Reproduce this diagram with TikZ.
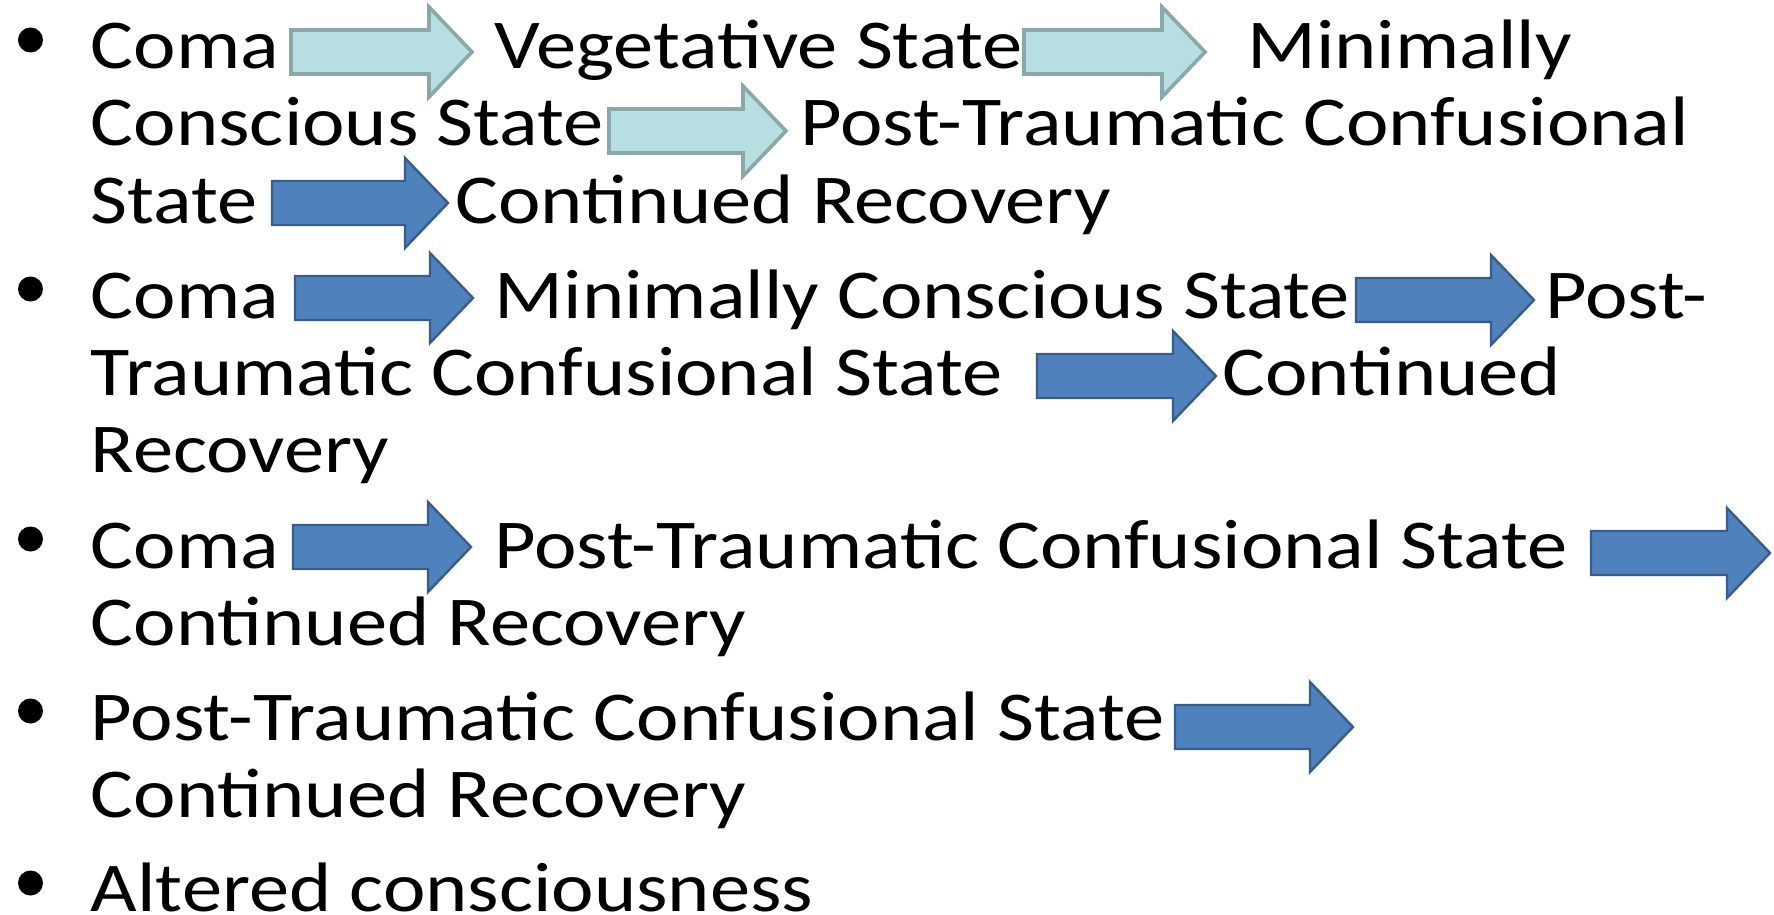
\documentclass[tikz,border=0pt]{standalone}
\usepackage{fontspec}
\setmainfont[FakeStretch=1.15]{Carlito}
\usepackage{tikz}
\definecolor{lightfill}{HTML}{B7DEE1}
\definecolor{lightedge}{HTML}{8AA8AB}
\definecolor{darkfill}{HTML}{4F81BD}
\definecolor{darkedge}{HTML}{385D8A}
\tikzset{x=0.5pt, y=-0.5pt,
  txt/.style={anchor=base west, inner sep=0pt, font=\fontsize{35}{38}\selectfont},
  lightarrow/.style={fill=lightfill, draw=lightedge, line width=1.8pt, line join=miter},
  darkarrow/.style={fill=darkfill, draw=darkedge, line width=1.2pt, line join=miter},
  dot/.style={fill=black}}
% block arrow: style, left end, tip, middle height
\newcommand{\barrow}[4][darkarrow]{%
  \draw[#1] (#2,#4-22) -- (#3-43,#4-22) -- (#3-43,#4-45) -- (#3,#4)
    -- (#3-43,#4+45) -- (#3-43,#4+22) -- (#2,#4+22) -- cycle;}

\begin{document}
\begin{tikzpicture}
\useasboundingbox (0,0) rectangle (1774,915);

% bullets
\foreach \b in {40,289,539,711,883}
  \fill[dot] (30.5,\b) circle (12.5);

% first item
\node[txt] (coma1) at (90.5,69) {Coma};
\barrow[lightarrow]{291}{472}{52}
\node[txt] (veg) at (494.5,69) {Vegetative State};
\barrow[lightarrow]{1024}{1205}{52}
\node[txt] (mcs1a) at (1247,69) {Minimally};
\node[txt] (mcs1b) at (90.5,146) {Conscious State};
\barrow[lightarrow]{609}{786}{131}
\node[txt] (ptcs1a) at (800,146) {Post-Traumatic Confusional};
\node[txt] (ptcs1b) at (90.5,223) {State};
\barrow{272}{448}{203}
\node[txt] (rec1) at (455,223) {Continued Recovery};

% second item
\node[txt] (coma2) at (90.5,318) {Coma};
\barrow{295}{473}{298}
\node[txt] (mcs2) at (494.4,318) {Minimally Conscious State};
\barrow{1356}{1534}{300}
\node[txt] (ptcs2a) at (1545,318) {Post-};
\node[txt] (ptcs2b) at (90.5,395) {Traumatic Confusional State};
\barrow{1037}{1216}{376}
\node[txt] (rec2a) at (1222,395) {Continued};
\node[txt] (rec2b) at (90.5,472) {Recovery};

% third item
\node[txt] (coma3) at (90.5,568) {Coma};
\barrow{293}{471}{547}
\node[txt] (ptcs3) at (494,568) {Post-Traumatic Confusional State};
\barrow{1591}{1770}{553}
\node[txt] (rec3) at (90.5,645) {Continued Recovery};

% fourth item
\node[txt] (ptcs4) at (90.5,740) {Post-Traumatic Confusional State};
\barrow{1175}{1353}{727}
\node[txt] (rec4) at (90.5,817) {Continued Recovery};

% last item
\node[txt] (alt) at (90.5,911) {Altered consciousness};
\end{tikzpicture}
\end{document}
